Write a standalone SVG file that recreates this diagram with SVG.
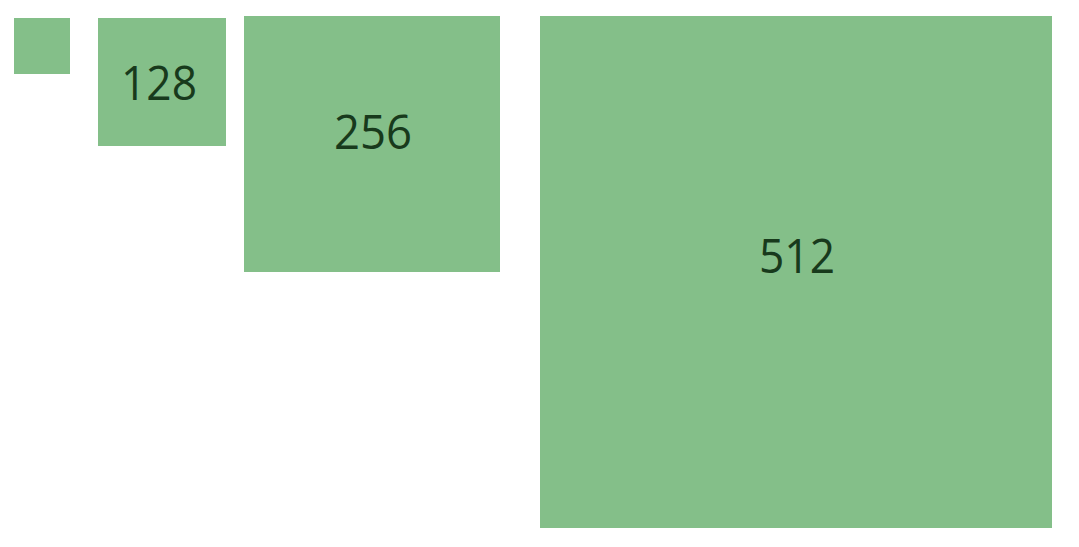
<svg xmlns="http://www.w3.org/2000/svg" width="1079" height="547" viewBox="0 0 1079 547">
<style>
.sq{fill:#84bf89}
.lb{font-family:"Open Sans","Noto Sans",sans-serif;font-size:47px;fill:#183a1c;text-anchor:middle}
</style>
<rect width="1079" height="547" fill="#ffffff"/>
<g id="n64"><rect class="sq" x="14" y="18" width="56" height="56"/></g>
<g id="n128"><rect class="sq" x="98" y="18" width="128" height="128"/><text class="lb" x="159" y="100" textLength="76" lengthAdjust="spacingAndGlyphs">128</text></g>
<g id="n256"><rect class="sq" x="244" y="16" width="256" height="256"/><text class="lb" x="373" y="149" textLength="78" lengthAdjust="spacingAndGlyphs">256</text></g>
<g id="n512"><rect class="sq" x="540" y="16" width="512" height="512"/><text class="lb" x="797" y="273" textLength="76" lengthAdjust="spacingAndGlyphs">512</text></g>
<g id="connectors"></g>
</svg>
